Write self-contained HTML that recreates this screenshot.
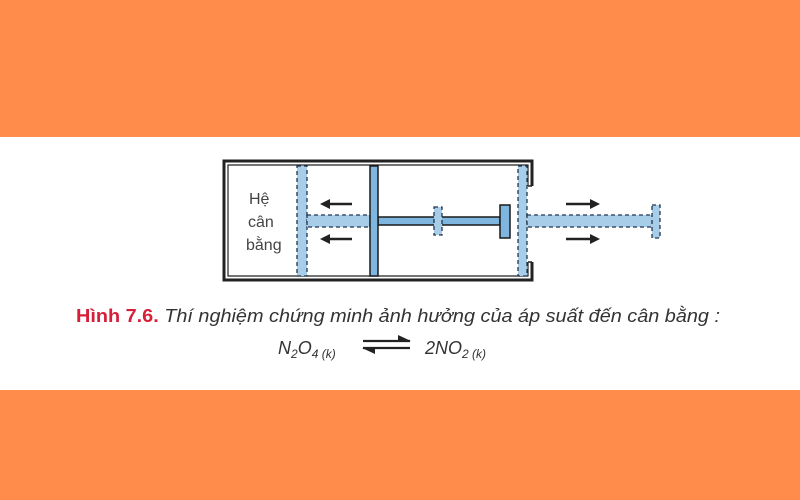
<!DOCTYPE html>
<html><head><meta charset="utf-8"><style>
html,body{margin:0;padding:0}
body{width:800px;height:500px;background:#fff;position:relative;overflow:hidden;font-family:"Liberation Sans",sans-serif}
.band{position:absolute;left:0;width:800px;background:#FF8C4B}
</style></head><body>
<div class="band" style="top:0;height:137px"></div>
<div class="band" style="top:390px;height:110px"></div>
<svg width="800" height="500" style="position:absolute;left:0;top:0">
<defs><marker id="a" markerWidth="10" markerHeight="10" refX="6" refY="5" orient="auto" markerUnits="userSpaceOnUse"><path d="M0,0 L10,5 L0,10 Z" fill="#222"/></marker></defs>
<path d="M532,186 V161 H224 V280 H532 V262" fill="none" stroke="#222" stroke-width="3"/>
<path d="M528,186 V165 H228 V276 H528 V262" fill="none" stroke="#222" stroke-width="1.2"/>
<path d="M532,186 H528 M532,262 H528" stroke="#222" stroke-width="1.5"/>
<rect x="297" y="166" width="10" height="110" fill="#a8cde9" stroke="#1f3550" stroke-width="1.3" stroke-dasharray="4,3"/>
<rect x="307" y="215" width="63" height="12" fill="#a8cde9" stroke="#1f3550" stroke-width="1.3" stroke-dasharray="4,3"/>
<rect x="378" y="217" width="122" height="8" fill="#7fb6e0" stroke="#1a1a1a" stroke-width="1.5"/>
<rect x="434" y="207" width="8" height="28" fill="#a8cde9" stroke="#1f3550" stroke-width="1.3" stroke-dasharray="4,3"/>
<rect x="500" y="205" width="10" height="33" fill="#7fb6e0" stroke="#1a1a1a" stroke-width="1.5"/>
<rect x="370" y="166" width="8" height="110" fill="#7fb6e0" stroke="#1a1a1a" stroke-width="1.5"/>
<rect x="518" y="166" width="9" height="110" fill="#a8cde9" stroke="#1f3550" stroke-width="1.3" stroke-dasharray="4,3"/>
<rect x="527" y="215" width="126" height="12" fill="#a8cde9" stroke="#1f3550" stroke-width="1.3" stroke-dasharray="4,3"/>
<rect x="652" y="205" width="8" height="33" fill="#a8cde9" stroke="#1f3550" stroke-width="1.3" stroke-dasharray="4,3"/>
<g stroke="#222" stroke-width="2.5" marker-end="url(#a)">
<line x1="352" y1="204" x2="324" y2="204"/><line x1="352" y1="239" x2="324" y2="239"/>
<line x1="566" y1="204" x2="596" y2="204"/><line x1="566" y1="239" x2="596" y2="239"/>
</g>
<g font-size="16" fill="#444"><text x="249" y="204">Hệ</text><text x="248" y="227">cân</text><text x="246" y="250">bằng</text></g>
<text x="76" y="322" font-size="18" fill="#333" textLength="644" lengthAdjust="spacingAndGlyphs"><tspan font-weight="bold" fill="#d6203a">Hình 7.6.</tspan><tspan font-style="italic"> Thí nghiệm chứng minh ảnh hưởng của áp suất đến cân bằng :</tspan></text>
<g font-style="italic" fill="#333" font-size="18">
<text x="278" y="354">N<tspan font-size="12" dy="4">2</tspan><tspan dy="-4">O</tspan><tspan font-size="12" dy="4">4</tspan><tspan font-size="12"> (k)</tspan></text>
<text x="425" y="354">2NO<tspan font-size="12" dy="4">2</tspan><tspan font-size="12"> (k)</tspan></text>
</g>
<g stroke="#222" stroke-width="2.2" fill="none">
<path d="M363,341 H410"/><path d="M410,348 H363"/>
</g>
<path d="M398,335 L411,341 L398,341 Z" fill="#222"/>
<path d="M375,354 L362,348 L375,348 Z" fill="#222"/>
</svg>
</body></html>
